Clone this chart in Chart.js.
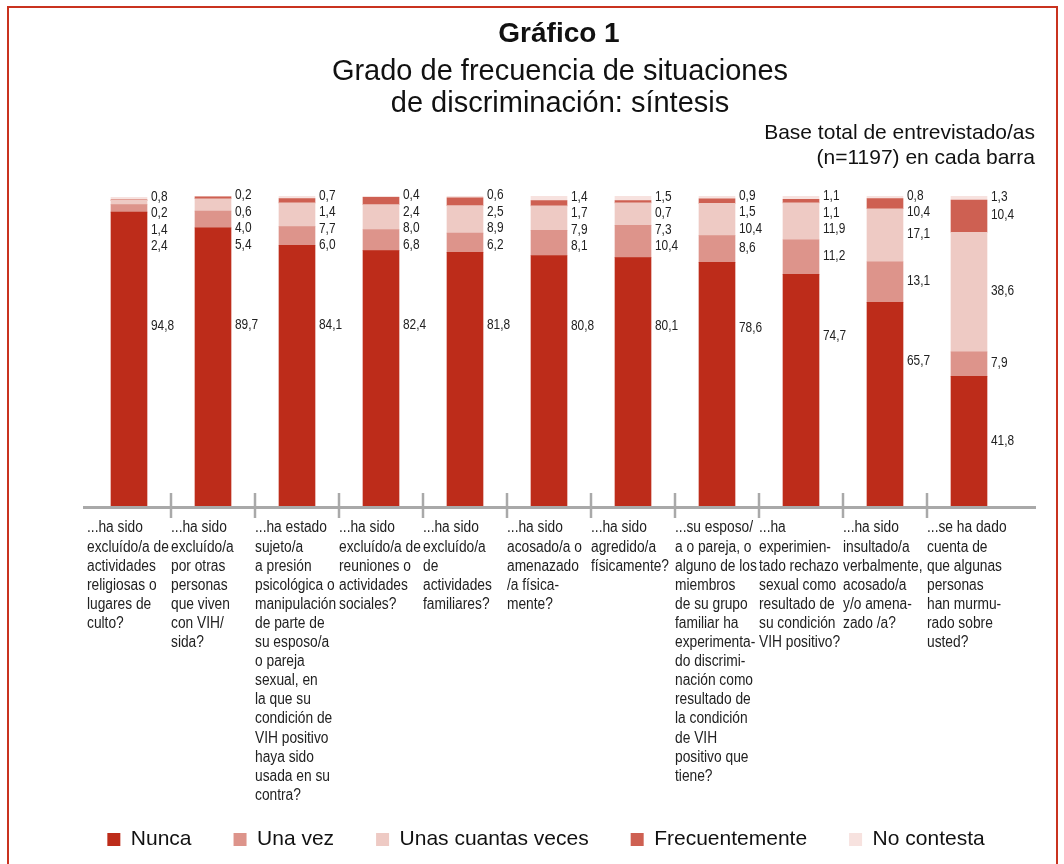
<!DOCTYPE html>
<html>
<head>
<meta charset="utf-8">
<script src="https://cdn.jsdelivr.net/npm/chart.js@4/dist/chart.umd.min.js"></script>
<style>
  html, body { margin: 0; padding: 0; background: #fff; }
  #wrap { position: relative; width: 1064px; height: 864px; overflow: hidden; }
  #frame { position: absolute; left: 7px; top: 6px; width: 1047px; height: 900px;
           border: 2px solid #c9321f; border-bottom: none; }
  #myChart { position: absolute; left: 0; top: 0; }
</style>
</head>
<body>
<div id="wrap">
  <div id="frame"></div>
  <canvas id="myChart" width="1064" height="864"></canvas>
</div>
<script>
// Data
const categories = [
    ['...ha sido', 'excluído/a de', 'actividades', 'religiosas o', 'lugares de', 'culto?'],
    ['...ha sido', 'excluído/a', 'por otras', 'personas', 'que viven', 'con VIH/', 'sida?'],
    ['...ha estado', 'sujeto/a', 'a presión', 'psicológica o', 'manipulación', 'de parte de', 'su esposo/a', 'o pareja', 'sexual, en', 'la que su', 'condición de', 'VIH positivo', 'haya sido', 'usada en su', 'contra?'],
    ['...ha sido', 'excluído/a de', 'reuniones o', 'actividades', 'sociales?'],
    ['...ha sido', 'excluído/a', 'de', 'actividades', 'familiares?'],
    ['...ha sido', 'acosado/a o', 'amenazado', '/a física-', 'mente?'],
    ['...ha sido', 'agredido/a', 'físicamente?'],
    ['...su esposo/', 'a o pareja, o', 'alguno de los', 'miembros', 'de su grupo', 'familiar ha', 'experimenta-', 'do discrimi-', 'nación como', 'resultado de', 'la condición', 'de VIH', 'positivo que', 'tiene?'],
    ['...ha', 'experimien-', 'tado rechazo', 'sexual como', 'resultado de', 'su condición', 'VIH positivo?'],
    ['...ha sido', 'insultado/a', 'verbalmente,', 'acosado/a', 'y/o amena-', 'zado /a?'],
    ['...se ha dado', 'cuenta de', 'que algunas', 'personas', 'han murmu-', 'rado sobre', 'usted?'],
];

const nunca          = [94.8, 89.7, 84.1, 82.4, 81.8, 80.8, 80.1, 78.6, 74.7, 65.7, 41.8];
const unaVez         = [2.4, 5.4, 6.0, 6.8, 6.2, 8.1, 10.4, 8.6, 11.2, 13.1, 7.9];
const unasCuantas    = [1.4, 4.0, 7.7, 8.0, 8.9, 7.9, 7.3, 10.4, 11.9, 17.1, 38.6];
// bar 10 is drawn at ~3.3 in the source, but its printed label says 10,4
const frecuentemente = [0.2, 0.6, 1.4, 2.4, 2.5, 1.7, 0.7, 1.5, 1.1, 3.3, 10.4];
const noContesta     = [0.8, 0.2, 0.7, 0.4, 0.6, 1.4, 1.5, 0.9, 1.1, 0.8, 1.3];
const printedOverrides = { 3: { 9: '10,4' } };

const seriesNames  = ['Nunca', 'Una vez', 'Unas cuantas veces', 'Frecuentemente', 'No contesta'];
const seriesColors = ['#bd2c1a', '#dd948b', '#eecac4', '#ce6052', '#f7e2df'];
const seriesValues = [nunca, unaVez, unasCuantas, frecuentemente, noContesta];

const sans = "'Liberation Sans', Arial, sans-serif";

const fmt = (v) => v.toFixed(1).replace('.', ',');

// narrow text: Liberation Sans squeezed horizontally
const narrowText = (ctx, txt, x, y, sx) => {
    ctx.save();
    ctx.translate(x, y);
    ctx.scale(sx, 1);
    ctx.fillText(txt, 0, 0);
    ctx.restore();
};

// Plugins
const titleBlock = {
    id: 'titleBlock',
    beforeDraw(chart) {
        const ctx = chart.ctx;
        ctx.save();
        ctx.fillStyle = '#111';
        ctx.textAlign = 'center';
        ctx.textBaseline = 'alphabetic';
        ctx.font = 'bold 28px ' + sans;
        ctx.fillText('Gráfico 1', 559, 42);
        ctx.font = '29px ' + sans;
        ctx.fillText('Grado de frecuencia de situaciones', 560, 80);
        ctx.fillText('de discriminación: síntesis', 560, 112);
        ctx.textAlign = 'right';
        ctx.font = '21px ' + sans;
        ctx.fillText('Base total de entrevistado/as', 1035, 139);
        ctx.fillText('(n=1197) en cada barra', 1035, 164);
        ctx.restore();
    }
};

const axisAndLabels = {
    id: 'axisAndLabels',
    afterDatasetsDraw(chart) {
        const ctx = chart.ctx;
        const xScale = chart.scales.x;
        const y0 = chart.chartArea.bottom;
        ctx.save();

        // axis line + separators
        ctx.strokeStyle = '#a9a9a9';
        ctx.lineWidth = 3;
        ctx.beginPath();
        ctx.moveTo(83, y0 + 1.5);
        ctx.lineTo(1036, y0 + 1.5);
        ctx.stroke();
        ctx.lineWidth = 2.5;
        for (let i = 1; i < categories.length; i++) {
            const x = (xScale.getPixelForValue(i - 1) + xScale.getPixelForValue(i)) / 2;
            ctx.beginPath();
            ctx.moveTo(x, y0 - 13);
            ctx.lineTo(x, y0 + 12);
            ctx.stroke();
        }

        // category labels, left aligned under each category
        ctx.fillStyle = '#222';
        ctx.textAlign = 'left';
        ctx.textBaseline = 'middle';
        ctx.font = '16px ' + sans;
        categories.forEach((lines, i) => {
            const x = xScale.getPixelForValue(i) - 42;
            lines.forEach((line, j) => narrowText(ctx, line, x, y0 + 22 + j * 19.1, 0.86));
        });

        // value labels to the right of each bar
        ctx.font = '14.5px ' + sans;
        for (let i = 0; i < categories.length; i++) {
            let prev = -Infinity;
            for (let d = seriesValues.length - 1; d >= 0; d--) {
                const bar = chart.getDatasetMeta(d).data[i];
                const c = (bar.y + bar.base) / 2;
                const y = d === 0 ? Math.min(c, prev + 80) : Math.max(c - 1.5, prev + 16.5);
                prev = y;
                const over = printedOverrides[d] && printedOverrides[d][i];
                const txt = over || fmt(seriesValues[d][i]);
                narrowText(ctx, txt, bar.x + bar.width / 2 + 4, y, 0.82);
            }
        }
        ctx.restore();
    }
};

const ctx = document.getElementById('myChart').getContext('2d');

const data = {
    labels: categories.map(lines => lines.join(' ')),
    datasets: seriesNames.map((name, k) => ({
        label: name,
        data: seriesValues[k],
        backgroundColor: seriesColors[k],
        borderWidth: 0,
        barThickness: 36,
    })),
};

const hiddenAxis = (w, pos) => ({
    position: pos,
    display: true,
    grid: { display: false, drawTicks: false },
    border: { display: false },
    ticks: { display: false },
    afterFit: (scale) => { scale.width = w; },
});

const options = {
    responsive: false,
    animation: false,
    layout: {
        padding: { left: 28, right: 0, top: 196, bottom: 4 },
    },
    scales: {
        x: {
            stacked: true,
            grid: { display: false, drawTicks: false },
            border: { display: false },
            ticks: { display: false },
            afterFit: (scale) => { scale.height = 281; },
        },
        y: Object.assign(hiddenAxis(59, 'left'), { stacked: true, min: 0, max: 100 }),
        yRight: hiddenAxis(53, 'right'),
    },
    plugins: {
        legend: {
            position: 'bottom',
            labels: {
                boxWidth: 13,
                boxHeight: 13,
                padding: 42,
                color: '#111',
                font: { family: sans, size: 21 },
            },
        },
        tooltip: { enabled: false },
    },
};

const myChart = new Chart(ctx, {
    type: 'bar',
    data: data,
    options: options,
    plugins: [titleBlock, axisAndLabels],
});
</script>
</body>
</html>
